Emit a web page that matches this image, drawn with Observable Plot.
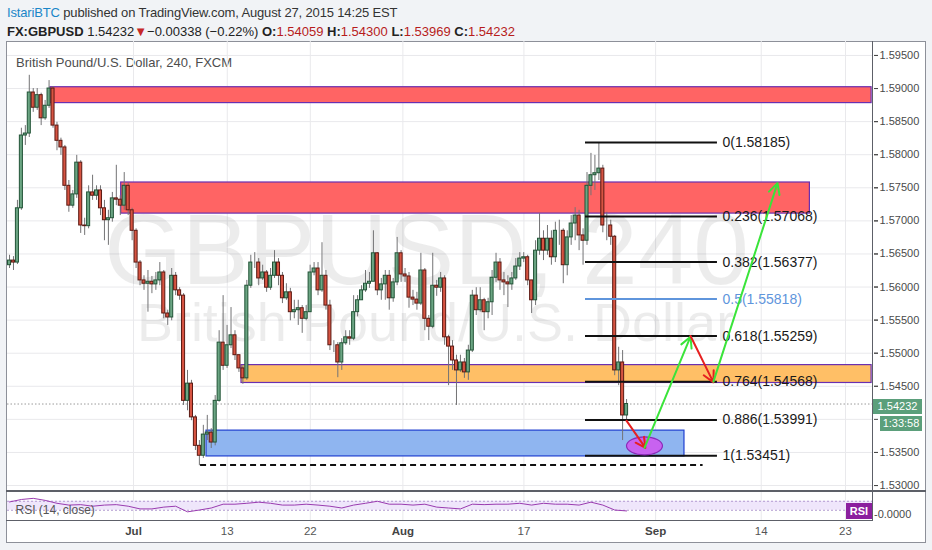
<!DOCTYPE html>
<html>
<head>
<meta charset="utf-8">
<script src="https://cdn.jsdelivr.net/npm/d3@7"></script>
<script src="https://cdn.jsdelivr.net/npm/@observablehq/plot@0.6"></script>
<style>
html,body{margin:0;padding:0}
body{width:932px;height:550px;background:#f1f3f6;position:relative;overflow:hidden;font-family:"Liberation Sans",Arial,sans-serif}
.abs{position:absolute;white-space:nowrap}
#frame{left:6px;top:41px;width:920px;height:502px;background:#fff;border:1px solid #8d9099;box-sizing:border-box}
#h1{left:7px;top:5px;font-size:13px;color:#333;letter-spacing:-0.15px}
#h2{left:7px;top:24px;font-size:13px;color:#222}
.red{color:#b71c1c}
#title{left:16px;top:55px;font-size:13px;color:#4d4d4d}
.line{background:#5d6068}
.tag{color:#fff;font-size:11px;text-align:center}
</style>
</head>
<body>
<div id="frame" class="abs"></div>
<div id="h1" class="abs"></div>
<div id="h2" class="abs"></div>
<div id="title" class="abs"></div>
<script>
// ---------- data ----------
const symbol = "FX:GBPUSD";
const pairName = "British Pound/U.S. Dollar, 240, FXCM";
const watermark = "GBPUSD, 240";
const watermarkSub = "British Pound/U.S. Dollar";
const author = "IstariBTC";
const published = " published on TradingView.com, August 27, 2015 14:25 EST";
const lastPrice = 1.54232;
const change = "\u22120.00338 (\u22120.22%)";
const ohlcKeys = ["O:", "H:", "L:", "C:"];
const ohlcVals = ["1.54059", "1.54300", "1.53969", "1.54232"];
const countdown = "1:33:58";

const firstOpen = 1.5633;
const closes = [
1.5640,1.5637,1.5719,1.5829,1.5832,1.5894,1.5871,1.5890,1.5855,1.5874,
1.5900,1.5844,1.5821,1.5811,1.5753,1.5723,1.5740,1.5788,1.5693,1.5692,
1.5743,1.5738,1.5746,1.5719,1.5701,1.5704,1.5734,1.5732,1.5723,1.5753,
1.5716,1.5685,1.5637,1.5610,1.5605,1.5608,1.5604,1.5610,1.5622,1.5560,
1.5554,1.5617,1.5595,1.5587,1.5428,1.5454,1.5403,1.5360,1.5345,1.5377,
1.5380,1.5365,1.5428,1.5516,1.5481,1.5512,1.5527,1.5497,1.5477,1.5462,
1.5602,1.5637,1.5637,1.5613,1.5622,1.5599,1.5617,1.5637,1.5617,1.5583,
1.5592,1.5562,1.5565,1.5568,1.5552,1.5562,1.5622,1.5628,1.5595,1.5617,
1.5572,1.5512,1.5512,1.5486,1.5515,1.5524,1.5522,1.5562,1.5580,1.5595,
1.5605,1.5608,1.5651,1.5595,1.5604,1.5617,1.5583,1.5607,1.5651,1.5619,
1.5616,1.5584,1.5581,1.5575,1.5625,1.5552,1.5540,1.5602,1.5599,1.5613,
1.5524,1.5510,1.5489,1.5474,1.5486,1.5471,1.5504,1.5587,1.5565,1.5580,
1.5562,1.5577,1.5614,1.5637,1.5610,1.5607,1.5604,1.5613,1.5631,1.5643,
1.5645,1.5610,1.5580,1.5655,1.5673,1.5655,1.5673,1.5645,1.5685,1.5685,
1.5633,1.5675,1.5696,1.5708,1.5678,1.5670,1.5753,1.5769,1.5772,1.5779,
1.5693,1.5693,1.5676,1.5474,1.5486,1.54059,1.54232];
const highs = [
1.5648,1.5646,1.5731,1.5840,1.5844,1.5920,1.5900,1.5900,1.5893,1.5882,
1.5912,1.5903,1.5849,1.5825,1.5814,1.5761,1.5746,1.5799,1.5791,1.5704,
1.5753,1.5769,1.5753,1.5753,1.5731,1.5716,1.5743,1.5784,1.5738,1.5773,
1.5757,1.5719,1.5688,1.5640,1.5617,1.5625,1.5616,1.5622,1.5637,1.5625,
1.5565,1.5628,1.5622,1.5599,1.5590,1.5474,1.5459,1.5406,1.5368,1.5391,
1.5406,1.5386,1.5436,1.5534,1.5587,1.5542,1.5569,1.5534,1.5492,1.5481,
1.5610,1.5648,1.5652,1.5643,1.5633,1.5625,1.5628,1.5655,1.5643,1.5622,
1.5605,1.5598,1.5580,1.5580,1.5572,1.5572,1.5633,1.5637,1.5637,1.5667,
1.5625,1.5580,1.5519,1.5516,1.5522,1.5534,1.5534,1.5587,1.5587,1.5602,
1.5625,1.5622,1.5685,1.5652,1.5613,1.5625,1.5625,1.5613,1.5675,1.5655,
1.5628,1.5622,1.5595,1.5592,1.5651,1.5628,1.5557,1.5651,1.5610,1.5622,
1.5617,1.5527,1.5519,1.5497,1.5497,1.5492,1.5512,1.5595,1.5599,1.5599,
1.5583,1.5583,1.5625,1.5651,1.5643,1.5622,1.5617,1.5622,1.5643,1.5652,
1.5652,1.5648,1.5610,1.5670,1.5711,1.5685,1.5693,1.5685,1.5698,1.5701,
1.5688,1.5685,1.5708,1.5720,1.5716,1.5688,1.5773,1.5802,1.5799,1.58185,
1.5784,1.5713,1.5701,1.5678,1.5509,1.5504,1.54300];
const lows = [
1.5628,1.5625,1.5634,1.5716,1.5814,1.5826,1.5864,1.5867,1.5844,1.5852,
1.5870,1.5840,1.5806,1.5799,1.5746,1.5713,1.5719,1.5734,1.5681,1.5678,
1.5688,1.5731,1.5731,1.5708,1.5670,1.5663,1.5698,1.5723,1.5708,1.5716,
1.5708,1.5670,1.5628,1.5602,1.5595,1.5562,1.5590,1.5595,1.5602,1.5552,
1.5542,1.5549,1.5587,1.5580,1.5421,1.5413,1.5398,1.5353,1.5330,1.5341,
1.5368,1.5356,1.5360,1.5426,1.5474,1.5477,1.5507,1.5489,1.5471,1.5453,
1.5459,1.5598,1.5628,1.5602,1.5610,1.5592,1.5595,1.5613,1.5602,1.5575,
1.5580,1.5549,1.5552,1.5542,1.5530,1.5549,1.5562,1.5617,1.5587,1.5592,
1.5565,1.5504,1.5501,1.5463,1.5474,1.5512,1.5512,1.5519,1.5555,1.5580,
1.5592,1.5598,1.5610,1.5587,1.5580,1.5580,1.5565,1.5577,1.5602,1.5607,
1.5607,1.5568,1.5572,1.5565,1.5572,1.5534,1.5519,1.5537,1.5586,1.5592,
1.5512,1.5451,1.5474,1.5421,1.5471,1.5462,1.5459,1.5501,1.5557,1.5562,
1.5534,1.5552,1.5557,1.5607,1.5595,1.5587,1.5569,1.5595,1.5610,1.5625,
1.5637,1.5602,1.5560,1.5572,1.5648,1.5640,1.5648,1.5633,1.5637,1.5663,
1.5605,1.5617,1.5663,1.5670,1.5655,1.5633,1.5663,1.5738,1.5746,1.5761,
1.5682,1.5670,1.5663,1.5466,1.5451,1.5368,1.53969];
const startDay = 0.55;      // trading-day index of first bar (Jun 16 = 0)
const barsPerDay = 3;

const priceGrid = [1.530,1.535,1.540,1.545,1.550,1.555,1.560,1.565,1.570,1.575,1.580,1.585,1.590,1.595];
// 1.54000 is hidden behind the countdown tag in the reference
const priceLabels = [1.530,1.535,1.545,1.550,1.555,1.560,1.565,1.570,1.575,1.580,1.585,1.590,1.595];
const monthTicks = [11, 33.7, 55];
const monthLabels = ["Jul", "Aug", "Sep"];
const dateTicks = [18.9, 25.9, 43.9, 63.9, 71];
const dateLabels = ["13", "22", "17", "14", "23"];

const zoneNames = ["supplyTop", "supplyMid", "support", "demand"];
const zoneFrom = [4.0, 9.96, 20.1, 17.15];
const zoneTo = [73.2, 68.0, 73.2, 57.43];
const zoneLow = [1.5878, 1.5711, 1.5455, 1.5344];
const zoneHigh = [1.5902, 1.5758, 1.5482, 1.5383];

const fibRatios = ["0", "0.236", "0.382", "0.5", "0.618", "0.764", "0.886", "1"];
const fibPrices = [1.58185, 1.57068, 1.56377, 1.55818, 1.55259, 1.54568, 1.53991, 1.53451];
const fibSpan = [49.09, 60.21];

const swingLow = 1.5331;
const swingSpan = [16.65, 59.0];

const moveFromDay = [52.54, 54.06, 57.94, 59.87];
const moveFromPrice = [1.5398, 1.5357, 1.5526, 1.5457];
const moveToDay = [54.14, 57.94, 59.87, 65.27];
const moveToPrice = [1.5357, 1.5525, 1.5456, 1.5757];
const moveDir = ["down", "up", "down", "up"];
const targetDay = 54.06, targetPrice = 1.5360;

const rsiStartDay = 0.55;
const rsi = [67,78,83,74,61,53,55,48,53,55,48,36,36,44,48,23,31,40,57,57,
61,66,61,53,53,57,53,48,40,53,61,70,57,57,53,57,44,40,36,57,
55,57,57,61,53,61,57,57,53,66,53,31,27];

// ---------- styles ----------
const zoneStyle = {
  supplyTop: {fill: "#ff6464", stroke: "#6a2fb0"},
  supplyMid: {fill: "#ff6464", stroke: "#6a2fb0"},
  support: {fill: "#ffbf66", stroke: "#6a2fb0"},
  demand: {fill: "#8fb5f0", stroke: "#1f3fd0"}
};
const moveColor = {up: "#3ae43a", down: "#e62020"};
const xDomain = [0.38, 73.36];

// ---------- tables ----------
const candles = closes.map((c, i) => {
  const o = i === 0 ? firstOpen : closes[i - 1];
  return {day: startDay + i / barsPerDay, open: o, close: c,
          high: Math.max(highs[i], o, c), low: Math.min(lows[i], o, c)};
});
const half = 1 / (2 * barsPerDay);
const zones = zoneNames.map((n, i) => ({name: n, x1: zoneFrom[i], x2: zoneTo[i], y1: zoneLow[i], y2: zoneHigh[i]}));
const fibs = fibRatios.map((r, i) => ({ratio: r, price: fibPrices[i]}));
const moves = moveDir.map((d, i) => ({dir: d, x1: moveFromDay[i], y1: moveFromPrice[i], x2: moveToDay[i], y2: moveToPrice[i]}));
const rsiData = rsi.map((v, k) => ({day: rsiStartDay + k, v}));
const allTicks = monthTicks.concat(dateTicks);

// ---------- header ----------
document.getElementById("h1").innerHTML = `<span style="color:#1a86c8">${author}</span>${published}`;
document.getElementById("h2").innerHTML = `<b>${symbol}</b> ${lastPrice.toFixed(5)}<span style="color:#c62828;font-size:13px">&#9660;</span>${change} ` +
  ohlcKeys.map((k, i) => `<b>${k}</b><span class="red">${ohlcVals[i]}</span>`).join(" ");
document.getElementById("title").textContent = pairName;

// ---------- main pane ----------
const ellipseRender = (index, scales, values, dimensions, context, next) => {
  const g = next(index, scales, values, dimensions, context);
  for (const c of Array.from(g.querySelectorAll("circle"))) {
    const e = document.createElementNS("http://www.w3.org/2000/svg", "ellipse");
    for (const a of ["cx", "cy", "transform"]) if (c.getAttribute(a) != null) e.setAttribute(a, c.getAttribute(a));
    e.setAttribute("rx", 18); e.setAttribute("ry", 9);
    c.replaceWith(e);
  }
  return g;
};

const main = Plot.plot({
  width: 920, height: 450,
  marginLeft: 1, marginRight: 53, marginTop: 0, marginBottom: 1,
  x: {type: "linear", domain: xDomain, axis: null},
  y: {domain: [1.52925, 1.59711]},
  style: {background: "transparent", fontFamily: "Liberation Sans, Arial, sans-serif"},
  marks: [
    Plot.ruleY(priceGrid, {stroke: "#e9e9ec"}),
    Plot.ruleX(allTicks, {stroke: "#e9e9ec"}),
    Plot.text([watermark], {frameAnchor: "middle", dx: -14, dy: -14, fontSize: 100, fill: "#000", fillOpacity: 0.075}),
    Plot.text([watermarkSub], {frameAnchor: "middle", dx: -5, dy: 58, fontSize: 54, fill: "#000", fillOpacity: 0.075}),
    Plot.rect(zones, {x1: "x1", x2: "x2", y1: "y1", y2: "y2",
      fill: d => zoneStyle[d.name].fill, stroke: d => zoneStyle[d.name].stroke, strokeWidth: 1.2}),
    Plot.ruleY([lastPrice], {stroke: "#9a9a9a", strokeDasharray: "1.5,2"}),
    Plot.ruleX(candles, {x: "day", y1: "low", y2: "high", stroke: "#737375"}),
    Plot.rect(candles, {x1: d => d.day - half, x2: d => d.day + half, y1: "open", y2: "close",
      insetLeft: 0.45, insetRight: 0.45,
      fill: d => d.close >= d.open ? "#6ba583" : "#d75442",
      stroke: d => d.close >= d.open ? "#225437" : "#5b1a13", strokeWidth: 1}),
    Plot.ruleY([swingLow], {x1: swingSpan[0], x2: swingSpan[1], stroke: "#111", strokeWidth: 2, strokeDasharray: "6,4"}),
    Plot.ruleY(fibs, {y: "price", x1: fibSpan[0], x2: fibSpan[1], strokeWidth: 2,
      stroke: d => d.ratio === "0.5" ? "#5f95dc" : "#111"}),
    Plot.text(fibs, {x: fibSpan[1], y: "price", text: d => `${d.ratio}(${d.price.toFixed(5)})`,
      textAnchor: "start", dx: 5, fontSize: 14, fill: d => d.ratio === "0.5" ? "#5f95dc" : "#1a1a1a"}),
    Plot.dot([{day: targetDay, price: targetPrice}], {x: "day", y: "price", r: 9,
      fill: "#c862f0", stroke: "#8a2bb8", strokeWidth: 1.2, render: ellipseRender}),
    Plot.arrow(moves, {x1: "x1", y1: "y1", x2: "x2", y2: "y2",
      stroke: d => moveColor[d.dir], strokeWidth: 2, headLength: 9, headAngle: 55}),
    Plot.axisY(priceGrid, {anchor: "right", tickSize: 4, tickFormat: () => "", color: "#4a4a4a", label: null}),
    Plot.axisY(priceLabels, {anchor: "right", tickFormat: d => d.toFixed(5), tickSize: 4, tickPadding: 2,
      fontSize: 11, color: "#4a4a4a", label: null})
  ]
});
main.style.position = "absolute"; main.style.left = "6px"; main.style.top = "41px";
document.body.appendChild(main);

// ---------- RSI pane + time axis ----------
const rsiPlot = Plot.plot({
  width: 920, height: 52,
  marginLeft: 1, marginRight: 53, marginTop: 1, marginBottom: 22,
  x: {type: "linear", domain: xDomain},
  y: {domain: [-20, 109], axis: null},
  style: {background: "transparent", fontFamily: "Liberation Sans, Arial, sans-serif"},
  marks: [
    Plot.ruleX(allTicks, {stroke: "#e9e9ec"}),
    Plot.rect([0], {y1: 30, y2: 70, fill: "#efe6fb"}),
    Plot.ruleY([30, 70], {stroke: "#b19ad0", strokeDasharray: "2,2"}),
    Plot.line(rsiData, {x: "day", y: "v", stroke: "#9a3cb0", strokeWidth: 1}),
    Plot.text(["RSI (14, close)"], {frameAnchor: "left", dx: 8, dy: 3, textAnchor: "start", fontSize: 12, fill: "#555"}),
    Plot.axisX(monthTicks, {tickFormat: (d, i) => monthLabels[i], tickSize: 0, tickPadding: 5,
      fontSize: 11.5, fontWeight: "bold", color: "#444", label: null}),
    Plot.axisX(dateTicks, {tickFormat: (d, i) => dateLabels[i], tickSize: 0, tickPadding: 5,
      fontSize: 11.5, color: "#555", label: null})
  ]
});
rsiPlot.style.position = "absolute"; rsiPlot.style.left = "6px"; rsiPlot.style.top = "491px";
document.body.appendChild(rsiPlot);

// ---------- pane frame lines and price tags ----------
function addDiv(css, html, cls) {
  const d = document.createElement("div");
  d.className = "abs " + (cls || "");
  d.style.cssText += css;
  if (html) d.innerHTML = html;
  document.body.appendChild(d);
  return d;
}
addDiv("left:872px;top:41px;width:1px;height:480px;", "", "line");
addDiv("left:6px;top:490px;width:920px;height:2px;", "", "line");
addDiv("left:6px;top:520px;width:867px;height:1px;", "", "line");

const yLast = 41 + main.scale("y").apply(lastPrice);
addDiv(`left:873px;top:${yLast - 5}px;width:49px;height:15px;line-height:15px;background:#5b9f7b;`, lastPrice.toFixed(5), "tag");
addDiv(`left:880px;top:${yLast + 12}px;width:42px;height:15px;line-height:15px;background:#5b9f7b;`, countdown, "tag");
addDiv("left:846px;top:503px;width:26px;height:16px;line-height:16px;background:#8b1f9e;font-weight:bold;", "RSI", "tag");
addDiv("left:874px;top:508px;font-size:11px;color:#4a4a4a;", "-0.0000");
</script>
</body>
</html>
